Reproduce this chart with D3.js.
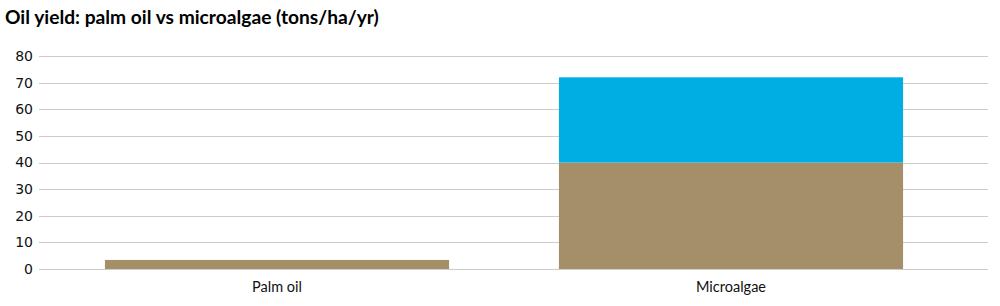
<!DOCTYPE html>
<html>
<head>
<meta charset="utf-8">
<script src="https://cdn.jsdelivr.net/npm/d3@7"></script>
<style>
  body { margin: 0; background: #fff; }
  svg { display: block; }
</style>
</head>
<body>
<div id="chart"></div>
<script>
// data
var categories = ["Palm oil", "Microalgae"];
var baseValues = [3.4, 40];     // brown segment
var extraValues = [0, 32];      // blue segment on top
var yTicks = [0, 10, 20, 30, 40, 50, 60, 70, 80];

var width = 1000,
    height = 306,
    gridLeft = 39,
    gridRight = 988,
    colors = ["#a48f69", "#00aee3"];

var svg = d3.select("#chart")
    .append("svg")
    .attr("width", width)
    .attr("height", height);

svg.append("text")
    .attr("x", 5)
    .attr("y", 24)
    .attr("font-family", "Lato, sans-serif")
    .attr("font-weight", "bold")
    .attr("font-size", 19.2)
    .attr("fill", "#000")
    .text("Oil yield: palm oil vs microalgae (tons/ha/yr)");

var y = d3.scaleLinear()
    .domain([0, 80])
    .range([269, 56]);

var x = d3.scaleBand()
    .domain(categories)
    .range([50, 958])
    .paddingInner(0.242)
    .paddingOuter(0.121);

// gridlines
svg.append("g")
    .selectAll("line")
    .data(yTicks)
    .enter()
    .append("line")
    .attr("x1", gridLeft)
    .attr("x2", gridRight)
    .attr("y1", function (d) { return Math.round(y(d)) + 0.5; })
    .attr("y2", function (d) { return Math.round(y(d)) + 0.5; })
    .attr("stroke", "#cccccc")
    .attr("stroke-width", 1);

// y tick labels
svg.append("g")
    .selectAll("text")
    .data(yTicks)
    .enter()
    .append("text")
    .attr("x", 33)
    .attr("y", function (d) { return y(d); })
    .attr("dy", "0.35em")
    .attr("text-anchor", "end")
    .attr("font-family", "DejaVu Sans, sans-serif")
    .attr("font-size", 14)
    .attr("fill", "#111")
    .text(function (d) { return d; });

var stacked = d3.stack().keys([0, 1])(categories.map(function (c, i) {
    return {cat: c, 0: baseValues[i], 1: extraValues[i]};
}));

svg.append("g")
    .selectAll("g")
    .data(stacked)
    .enter()
    .append("g")
    .attr("fill", function (d, i) { return colors[i]; })
    .selectAll("rect")
    .data(function (d) { return d; })
    .enter()
    .append("rect")
    .attr("x", function (d) { return x(d.data.cat); })
    .attr("width", x.bandwidth())
    .attr("y", function (d) { return y(d[1]); })
    .attr("height", function (d) { return y(d[0]) - y(d[1]); });

// category labels
svg.append("g")
    .selectAll("text")
    .data(categories)
    .enter()
    .append("text")
    .attr("x", function (d) { return x(d) + x.bandwidth() / 2; })
    .attr("y", 292)
    .attr("text-anchor", "middle")
    .attr("font-family", "Lato, sans-serif")
    .attr("font-size", 14.5)
    .attr("fill", "#111")
    .text(function (d) { return d; });
</script>
</body>
</html>
